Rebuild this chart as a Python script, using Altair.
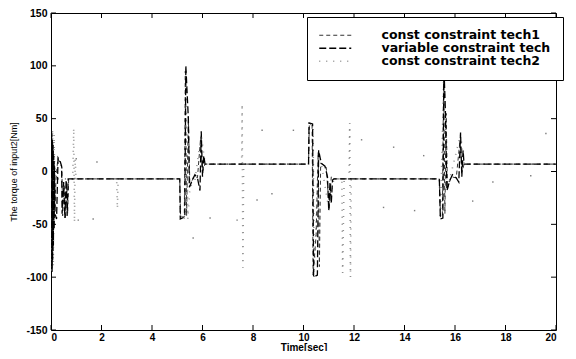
import altair as alt
import pandas as pd

NAMES = ["const constraint tech1", "variable constraint tech", "const constraint tech2"]
COLORS = ["#333333", "#000000", "#909090"]
DASHES = [[4, 3], [7, 3], [1, 6]]
WIDTHS = [1.0, 1.6, 0.8]

X_TICKS = list(range(0, 21, 2))
Y_TICKS = list(range(-150, 151, 50))

# variable constraint tech
tA = [0.00, 0.02, 0.035, 0.05, 0.065, 0.08, 0.095, 0.11, 0.125, 0.14, 0.16,
      0.22, 0.28, 0.36, 0.42, 0.44, 0.50, 0.55, 0.60, 0.64, 0.68,
      5.10, 5.12, 5.30, 5.34, 5.44, 5.48, 5.60, 5.70, 5.80, 5.90, 5.95, 6.00, 6.05, 6.10,
      10.20, 10.22, 10.36, 10.40, 10.55, 10.60, 10.70, 10.85, 10.95, 11.00, 11.05, 11.10, 11.15, 11.20,
      15.38, 15.42, 15.52, 15.56, 15.62, 15.68, 15.80, 15.90, 16.05, 16.15, 16.22, 16.27, 16.32, 16.36, 20.0]
vA = [0, 38, -92, 30, -85, 25, -70, 15, -55, 5, -40,
      -45, 13, 10, 5, -40, -10, -44, -8, -42, -7,
      -7, -45, -43, 100, 50, -15, -8, -3, -6, -18, 38, -5, 15, 7,
      7, 46, 45, -100, -98, 20, 8, 5, -5, -37, -10, -30, -8, -7,
      -7, -45, -44, 100, 57, -18, -8, -3, -6, -10, 37, -5, 20, 7, 7]

# const constraint tech1
tB = [0.00, 0.025, 0.04, 0.055, 0.07, 0.085, 0.10, 0.115, 0.13, 0.15,
      0.20, 0.27, 0.35, 0.43, 0.46, 0.52, 0.57, 0.62, 0.66, 0.70,
      5.10, 5.13, 5.28, 5.32, 5.37, 5.44, 5.50, 5.65, 5.80, 5.92, 6.00, 6.10,
      10.20, 10.23, 10.34, 10.38, 10.50, 10.58, 10.63, 10.68, 10.90, 11.02, 11.10, 11.20,
      15.38, 15.43, 15.50, 15.55, 15.60, 15.65, 15.70, 15.85, 16.05, 16.20, 16.28, 16.36, 20.0]
vB = [0, -60, 35, -95, 28, -75, 20, -50, 10, -35,
      -7, 12, 9, 4, -42, -12, -45, -10, -40, -7,
      -7, -43, -43, 95, -42, 52, -14, -5, -6, 30, 0, 7,
      7, 44, 44, -98, -60, 18, -90, 8, 4, -35, -5, -7,
      -7, -43, -43, 95, -40, 55, -16, -5, -6, 30, 0, 7, 7]

# const constraint tech2 (dotted trace)
tC = [0.00, 0.03, 0.06, 0.09, 0.12, 0.15, 0.86, 0.90, 0.93, 0.96, 0.99,
      2.60, 2.63, 2.66,
      5.10, 5.13, 5.30, 5.34, 5.42, 5.50, 5.70, 5.95, 6.10,
      7.55, 7.57, 7.60, 7.63,
      10.20, 10.22, 10.38, 10.42, 10.60, 10.70, 11.00, 11.20,
      11.52, 11.55, 11.58, 11.61, 11.80, 11.83, 11.86, 11.89,
      15.38, 15.42, 15.56, 15.68, 16.22, 16.36, 20.0]
vC = [0, -95, 40, -90, 35, -7, -7, 41, -48, 12, -7,
      -7, -35, -7,
      -7, -45, -44, 98, -45, -15, -8, 35, 7,
      7, 64, -91, 7,
      7, 45, 44, -100, 18, 8, -35, -7,
      -7, -96, -49, -7, -7, 46, -100, -7,
      -7, -45, 95, -18, 35, 7, 7]

# const constraint tech2 (isolated visible samples)
tD = [1.0, 1.08, 1.67, 1.82, 5.63, 6.3, 7.37, 8.16, 8.36, 8.75, 9.6,
      12.3, 13.17, 13.57, 14.4, 14.76, 16.7, 17.5, 19.0, 19.6]
vD = [12, -46, -45, 9, -63, -44, -46, -27, 39, -21, 39,
      30, -34, 23, -37, 15, -28, -10, -4, 36]

W, H = 505, 317

legend = alt.Legend(
    title=None, orient="none", legendX=256, legendY=4, padding=12,
    strokeColor="black", fillColor="white",
    labelFont="DejaVu Sans", labelFontSize=12.5, labelFontWeight="bold",
    labelColor="black", labelLimit=0,
    symbolType="M-3.2,0H3.2", symbolSize=100, symbolOffset=10, labelOffset=40,
    rowPadding=0, symbolFillColor="transparent",
)

xenc = alt.X("Time:Q", scale=alt.Scale(domain=[0, 20], nice=False),
             axis=alt.Axis(values=X_TICKS, title="Time[sec]", labelPadding=2,
                           titlePadding=0, titleFontSize=10, titleFontWeight="bold",
                           labelFontSize=10))
yenc = alt.Y("Torque:Q", scale=alt.Scale(domain=[-150, 150], nice=False),
             axis=alt.Axis(values=Y_TICKS, title="The torque of input2[Nm]",
                           labelPadding=4, titlePadding=7, titleFontSize=9,
                           titleFontWeight="normal", labelExpr="'' + datum.value"))


def series_layer(name, t, v):
    df = pd.DataFrame({"Time": t, "Torque": v, "series": name})
    return alt.Chart(df).mark_line(clip=True).encode(
        x=xenc, y=yenc,
        color=alt.Color("series:N", scale=alt.Scale(domain=NAMES, range=COLORS), legend=legend),
        strokeDash=alt.StrokeDash("series:N", scale=alt.Scale(domain=NAMES, range=DASHES), legend=legend),
        strokeWidth=alt.StrokeWidth("series:N", scale=alt.Scale(domain=NAMES, range=WIDTHS), legend=legend),
    )


dots = alt.Chart(pd.DataFrame({"Time": tD, "Torque": vD})).mark_square(
    size=2, opacity=0.9
).encode(x="Time:Q", y="Torque:Q", color=alt.value("#707070"))

xt = pd.DataFrame({"Time": X_TICKS})
yt = pd.DataFrame({"Torque": Y_TICKS})
tick_style = dict(color="black", strokeWidth=1)
ticks = [
    alt.Chart(xt).mark_rule(**tick_style).encode(x="Time:Q", y=alt.value(H), y2=alt.value(H - 5)),
    alt.Chart(xt).mark_rule(**tick_style).encode(x="Time:Q", y=alt.value(0), y2=alt.value(5)),
    alt.Chart(yt).mark_rule(**tick_style).encode(y="Torque:Q", x=alt.value(0), x2=alt.value(5)),
    alt.Chart(yt).mark_rule(**tick_style).encode(y="Torque:Q", x=alt.value(W), x2=alt.value(W - 5)),
]

chart = alt.layer(
    series_layer(NAMES[2], tC, vC),
    dots,
    series_layer(NAMES[0], tB, vB),
    series_layer(NAMES[1], tA, vA),
    *ticks,
).properties(
    width=W, height=H,
    padding={"left": 43, "top": 5, "right": 12, "bottom": 21},
    autosize=alt.AutoSizeParams(type="none"),
).configure_view(
    stroke="black", strokeWidth=1
).configure_axis(
    grid=False, ticks=False, domain=False,
    labelFont="Liberation Sans", labelFontSize=10.5, labelFontWeight="bold", labelColor="black",
    titleFont="Liberation Sans", titleColor="black",
)

chart.save("out.html", embed_options={"renderer": "svg", "actions": False})
